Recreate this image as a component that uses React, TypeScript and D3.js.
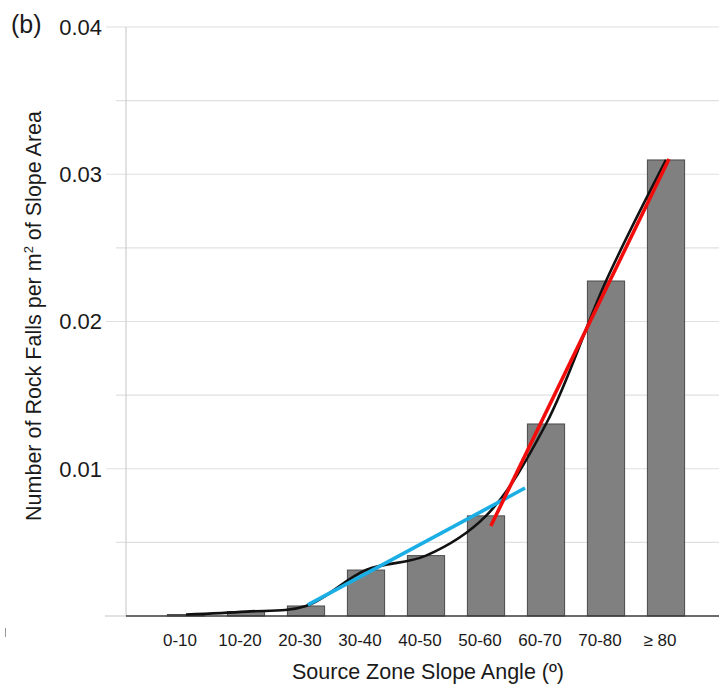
import React, { useRef, useEffect } from 'react';
import * as d3 from 'd3';

// slope angle classes and rock fall density per m2 of slope
const categories = ['0-10', '10-20', '20-30', '30-40', '40-50', '50-60', '60-70', '70-80', '≥ 80'];
const density = [0.0001, 0.0003, 0.00068, 0.00312, 0.0041, 0.0068, 0.01304, 0.02275, 0.03097];

// fitted trend lines, given as [class index, value]
const blue_fit = [
    [2.03, 0.00075],
    [5.65, 0.00869],
];
const red_fit = [
    [5.08, 0.00611],
    [8.05, 0.03104],
];

const y_ticks = [0.01, 0.02, 0.03, 0.04];
const y_minor = [0.005, 0.015, 0.025, 0.035];

export default function App() {
    const svg_ref = useRef(null);

    useEffect(() => {
        const svg = d3.select(svg_ref.current);
        svg.selectAll('*').remove();

        const width = 719;
        const margin = { left: 126, top: 27, bottom: 616 };
        const font = 'Liberation Sans, Arial, sans-serif';

        const x = d3.scaleBand().domain(categories).range([156, 696]).paddingInner(0.38).paddingOuter(0.19);
        const y = d3.scaleLinear([0, 0.04], [margin.bottom, margin.top]);
        const xi = d3.scaleLinear([0, categories.length - 1], [
            x(categories[0]) + x.bandwidth() / 2,
            x(categories[categories.length - 1]) + x.bandwidth() / 2,
        ]);

        // grid
        const grid = svg.append('g');
        grid.selectAll('.major')
            .data(y_ticks)
            .join('line')
            .attr('x1', 106)
            .attr('x2', width)
            .attr('y1', (d) => y(d))
            .attr('y2', (d) => y(d))
            .attr('stroke', '#e0e0e0')
            .attr('stroke-width', 1.2);
        grid.selectAll('.minor')
            .data(y_minor)
            .join('line')
            .attr('x1', 116)
            .attr('x2', width)
            .attr('y1', (d) => y(d))
            .attr('y2', (d) => y(d))
            .attr('stroke', '#e0e0e0')
            .attr('stroke-width', 1.2);

        svg.append('line')
            .attr('x1', margin.left)
            .attr('x2', margin.left)
            .attr('y1', y(0.04))
            .attr('y2', y(0))
            .attr('stroke', '#cfcfcf')
            .attr('stroke-width', 1.2);

        svg.append('g')
            .selectAll('text')
            .data(y_ticks)
            .join('text')
            .attr('x', 102)
            .attr('y', (d) => y(d))
            .attr('dy', '0.36em')
            .attr('text-anchor', 'end')
            .attr('font-family', font)
            .attr('font-size', 22)
            .attr('fill', '#1a1a1a')
            .text((d) => d.toFixed(2));

        // bars
        svg.append('g')
            .selectAll('rect')
            .data(density)
            .join('rect')
            .attr('x', (_, i) => x(categories[i]))
            .attr('y', (d) => y(d))
            .attr('width', x.bandwidth())
            .attr('height', (d) => y(0) - y(d))
            .attr('fill', '#808080')
            .attr('stroke', '#4a4a4a')
            .attr('stroke-width', 1);

        // baseline
        svg.append('line')
            .attr('x1', 105)
            .attr('x2', margin.left)
            .attr('y1', y(0))
            .attr('y2', y(0))
            .attr('stroke', '#cfcfcf')
            .attr('stroke-width', 1.2);
        svg.append('line')
            .attr('x1', margin.left)
            .attr('x2', width)
            .attr('y1', y(0))
            .attr('y2', y(0))
            .attr('stroke', '#3a3a3a')
            .attr('stroke-width', 1.5);

        // x axis labels
        const x_axis = d3.axisBottom(x).tickSize(0).tickPadding(0);
        const gx = svg.append('g').attr('transform', `translate(0,${y(0)})`).call(x_axis);
        gx.select('.domain').remove();
        gx.selectAll('text')
            .attr('dx', -6)
            .attr('y', 30)
            .attr('dy', 0)
            .attr('font-family', font)
            .attr('font-size', 17)
            .attr('fill', '#1a1a1a');

        // smoothed line through the bar tops
        const line = d3
            .line()
            .x((_, i) => xi(i))
            .y((d) => y(d))
            .curve(d3.curveCatmullRom.alpha(0.5));
        svg.append('path')
            .datum(density)
            .attr('fill', 'none')
            .attr('stroke', '#111')
            .attr('stroke-width', 2.6)
            .attr('d', line);

        const fit_line = d3
            .line()
            .x((d) => xi(d[0]))
            .y((d) => y(d[1]));
        svg.append('path')
            .datum(blue_fit)
            .attr('fill', 'none')
            .attr('stroke', '#1aaee5')
            .attr('stroke-width', 3.6)
            .attr('d', fit_line);
        svg.append('path')
            .datum(red_fit)
            .attr('fill', 'none')
            .attr('stroke', '#f20d0d')
            .attr('stroke-width', 3.6)
            .attr('d', fit_line);

        // titles
        svg.append('text')
            .attr('x', 428)
            .attr('y', 679)
            .attr('text-anchor', 'middle')
            .attr('font-family', font)
            .attr('font-size', 21.5)
            .attr('fill', '#1a1a1a')
            .text('Source Zone Slope Angle (º)');

        const yt = svg.append('text')
            .attr('transform', 'translate(41,316) rotate(-90)')
            .attr('text-anchor', 'middle')
            .attr('font-family', font)
            .attr('font-size', 21.5)
            .attr('fill', '#1a1a1a');
        yt.append('tspan').text('Number of Rock Falls per m');
        yt.append('tspan').attr('dy', -8).attr('font-size', 13).text('2');
        yt.append('tspan').attr('dy', 8).text(' of Slope Area');

        svg.append('text')
            .attr('x', 11)
            .attr('y', 33)
            .attr('font-family', font)
            .attr('font-size', 25)
            .attr('fill', '#1a1a1a')
            .text('(b)');

        svg.append('line')
            .attr('x1', 5.5)
            .attr('x2', 5.5)
            .attr('y1', 628)
            .attr('y2', 637)
            .attr('stroke', '#999')
            .attr('stroke-width', 1);
    }, []);

    return (
        <svg
            ref={svg_ref}
            width={719}
            height={686}
            style={{ position: 'absolute', left: 0, top: 0, background: '#fff' }}
        ></svg>
    );
}
